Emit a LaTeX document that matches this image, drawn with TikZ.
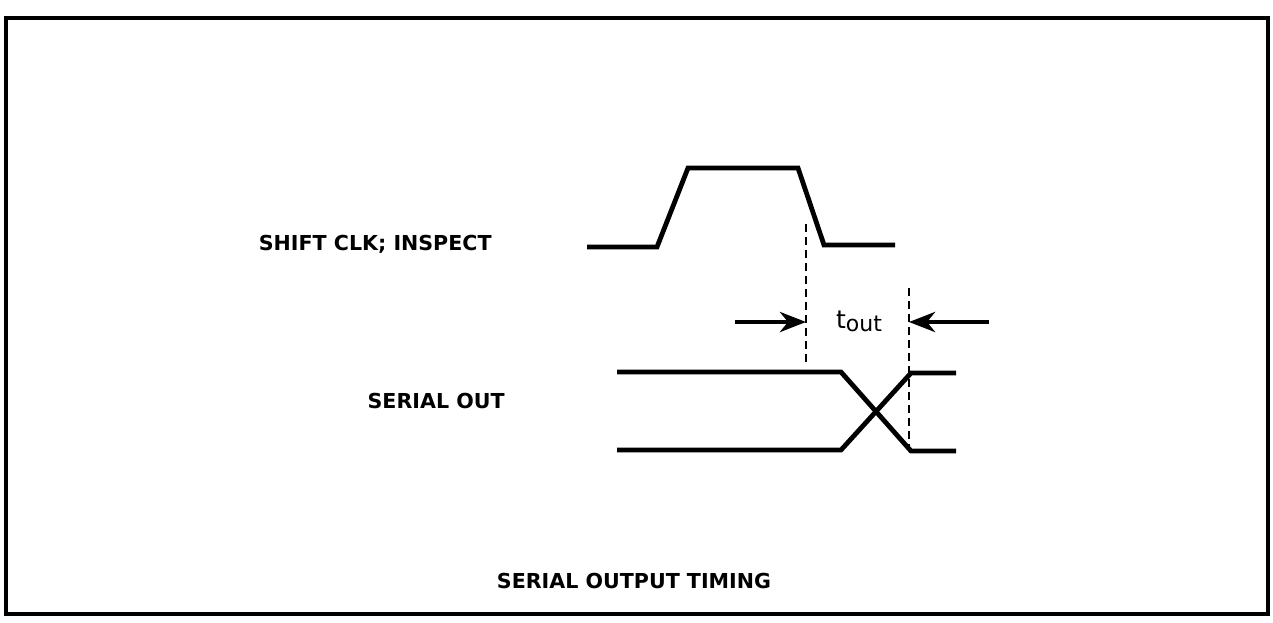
\documentclass[tikz,border=0pt]{standalone}
\usepackage{fontspec}
\setmainfont{DejaVu Sans}
\usetikzlibrary{arrows.meta}
\begin{document}
\begin{tikzpicture}[x=0.5pt,y=-0.5pt,
  sig/.style={line width=2.4pt, line join=miter},
  guide/.style={line width=1.1pt, dash pattern=on 4pt off 2.5pt},
  dim/.style={line width=2.4pt, -{Stealth[length=13pt,width=10pt,inset=4pt]}},
  lbl/.style={font=\fontsize{10.3}{12}\selectfont\bfseries, inner sep=0pt}]
\useasboundingbox (0,0) rectangle (1273,622);
\draw[line width=2.4pt] (6,18) rectangle (1268,614);
% clock
\coordinate (c0) at (587,247);
\coordinate (c1) at (657,247);
\coordinate (c2) at (688,168);
\coordinate (c3) at (798,168);
\coordinate (c4) at (824,245);
\coordinate (c5) at (895,245);
\draw[sig] (c0) -- (c1) -- (c2) -- (c3) -- (c4) -- (c5);
% serial out
\coordinate (a0) at (617,372);
\coordinate (a1) at (841,372);
\coordinate (a2) at (911,451);
\coordinate (a3) at (956,451);
\coordinate (b0) at (617,450);
\coordinate (b1) at (841,450);
\coordinate (b2) at (911,373);
\coordinate (b3) at (956,373);
\draw[sig] (a0) -- (a1) -- (a2) -- (a3);
\draw[sig] (b0) -- (b1) -- (b2) -- (b3);
% guides
\coordinate (g1t) at (806,224);
\coordinate (g1b) at (806,362);
\coordinate (g2t) at (909,288);
\coordinate (g2b) at (909,447);
\draw[guide] (g1t) -- (g1b);
\draw[guide] (g2t) -- (g2b);
% arrows
\coordinate (l0) at (735,322);
\coordinate (l1) at (806,322);
\coordinate (r0) at (989,322);
\coordinate (r1) at (909,322);
\draw[dim] (l0) -- (l1);
\draw[dim] (r0) -- (r1);
\node[font=\fontsize{12.5}{14}\selectfont, inner sep=0pt] (tout) at (859,321) {t\raisebox{-1.5pt}{\fontsize{11}{12}\selectfont out}};
% labels
\node[lbl, anchor=east] (clk) at (492,244) {SHIFT CLK; INSPECT};
\node[lbl, anchor=east] (ser) at (505,401) {SERIAL OUT};
\node[lbl] (title) at (634,581) {SERIAL OUTPUT TIMING};
\end{tikzpicture}
\end{document}
